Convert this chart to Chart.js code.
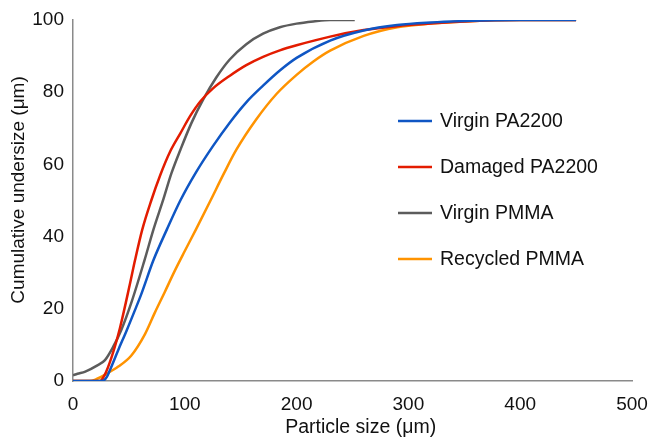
<!DOCTYPE html>
<html>
<head>
<meta charset="utf-8">
<script src="https://cdn.jsdelivr.net/npm/chart.js@4.4.1/dist/chart.umd.min.js"></script>
<style>
  html, body { margin: 0; padding: 0; background: #fff; }
  #wrap { width: 658px; height: 438px; }
</style>
</head>
<body>
<div id="wrap"><canvas id="psdChart" width="658" height="438"></canvas></div>
<script>
// Particle size distribution
const virginPA_x = [0, 26, 30, 33, 40.5, 48, 55.5, 61, 72, 84, 96, 110, 125, 140, 155, 170, 185, 200, 230, 260, 290, 320, 350, 400, 450];
const virginPA_y = [0, 0, 1, 3, 8.6, 14, 19.7, 24, 33.5, 42, 50, 57.8, 65, 71.5, 77.2, 81.8, 86, 89.5, 94.3, 97.1, 98.6, 99.3, 99.7, 100, 100];

const damagedPA_x = [0, 24, 28, 34.6, 42, 51, 55.5, 62, 70, 78, 86.8, 96, 105, 114, 125, 140, 155, 170, 185, 200, 230, 260, 290, 320, 350, 400, 450];
const damagedPA_y = [0, 0, 1.5, 6.7, 14.7, 27, 33.5, 42, 50, 57, 63.5, 68.6, 73.5, 77.5, 81, 84.5, 87.5, 89.8, 91.6, 93, 95.4, 97.2, 98.3, 99, 99.6, 100, 100];

const virginPMMA_x = [0, 4, 11, 21, 28.6, 36, 43, 52.5, 64, 72, 81, 88, 96, 106, 116.5, 128, 140, 155, 170, 185, 200, 215, 230, 252];
const virginPMMA_y = [1.6, 2, 2.6, 4.2, 5.8, 9.5, 14, 22, 33.5, 42, 50.5, 57.5, 64, 71.5, 78, 84, 89, 93.3, 96.2, 98, 99, 99.6, 100, 100];

const recycledPMMA_x = [0, 15, 20, 30, 40.5, 52, 64.4, 73, 82, 91, 100, 110, 123, 135, 146, 164, 182, 200, 215, 230, 260, 290, 320, 350, 400, 450];
const recycledPMMA_y = [0, 0, 0.4, 2, 4, 7, 13, 18.8, 24.6, 30.5, 36, 42, 50, 57.5, 64, 72.5, 79.5, 84.8, 88.5, 91.5, 95.6, 98, 99, 99.6, 100, 100];

const seriesNames = ["Virgin PA2200", "Damaged PA2200", "Virgin PMMA", "Recycled PMMA"];
const seriesColors = ["#0f56c4", "#e31c00", "#5c5c5c", "#ff9300"];

const xTicks = [0, 100, 200, 300, 400, 500];
const yTicks = [0, 20, 40, 60, 80, 100];

const FONT = "'Liberation Sans', Arial, Helvetica, sans-serif";

function toPoints(xs, ys) {
  return xs.map((x, i) => ({ x: x, y: ys[i] }));
}

const allX = [virginPA_x, damagedPA_x, virginPMMA_x, recycledPMMA_x];
const allY = [virginPA_y, damagedPA_y, virginPMMA_y, recycledPMMA_y];

// legend drawn inside the plot, to the right of the curves
const insideLegend = {
  id: "insideLegend",
  afterDraw(chart) {
    const ctx = chart.ctx;
    ctx.save();
    ctx.font = "19.5px " + FONT;
    ctx.textBaseline = "middle";
    chart.data.datasets.forEach((ds, i) => {
      const y = 121 + i * 46;
      ctx.strokeStyle = ds.borderColor;
      ctx.lineWidth = 2.5;
      ctx.beginPath();
      ctx.moveTo(398, y);
      ctx.lineTo(432, y);
      ctx.stroke();
      ctx.fillStyle = "#111";
      ctx.fillText(ds.label, 440, y + 1);
    });
    ctx.restore();
  }
};

const ctx = document.getElementById("psdChart").getContext("2d");
new Chart(ctx, {
  type: "line",
  data: {
    datasets: seriesNames.map((name, i) => ({
      label: name,
      data: toPoints(allX[i], allY[i]),
      borderColor: seriesColors[i],
      backgroundColor: seriesColors[i],
      borderWidth: 2.5,
      pointRadius: 0,
      fill: false,
      cubicInterpolationMode: "monotone"
    }))
  },
  options: {
    responsive: false,
    animation: false,
    layout: { padding: { top: 20, right: 26, left: 0, bottom: 0 } },
    plugins: {
      legend: { display: false },
      tooltip: { enabled: false }
    },
    scales: {
      x: {
        type: "linear",
        min: 0,
        max: 500,
        afterBuildTicks: (scale) => { scale.ticks = xTicks.map(v => ({ value: v })); },
        afterFit: (scale) => { scale.height = 57; },
        grid: { display: false },
        border: { display: true, color: "#8a8a8a", width: 1.5 },
        ticks: { color: "#111", padding: 4, font: { family: FONT, size: 19 } },
        title: {
          display: true,
          text: "   Particle size (μm)", // leading spaces nudge it right like the original
          color: "#111",
          padding: { top: 0, bottom: -1 },
          font: { family: FONT, size: 19.5 }
        }
      },
      y: {
        min: 0,
        max: 100,
        afterBuildTicks: (scale) => { scale.ticks = yTicks.map(v => ({ value: v })); },
        afterFit: (scale) => { scale.width = 73; },
        grid: { display: false },
        border: { display: true, color: "#8a8a8a", width: 1.5 },
        ticks: { color: "#111", padding: 1, font: { family: FONT, size: 19 } },
        title: {
          display: true,
          text: "    Cumulative undersize (μm)",
          color: "#111",
          padding: { top: 7, bottom: 0 },
          font: { family: FONT, size: 19 }
        }
      }
    }
  },
  plugins: [insideLegend]
});
</script>
</body>
</html>
